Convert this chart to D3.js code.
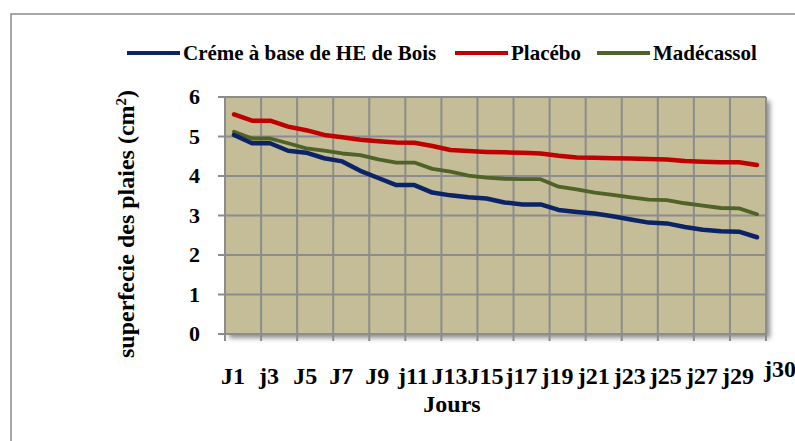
<!DOCTYPE html>
<html>
<head>
<meta charset="utf-8">
<script src="https://cdn.jsdelivr.net/npm/d3@7"></script>
<style>
  body { margin: 0; background: #fff; }
  text { font-family: "Liberation Serif", "Times New Roman", serif; font-weight: bold; fill: #000; }
</style>
</head>
<body>
<script>
var days = ["J1","j2","j3","j4","J5","j6","J7","j8","J9","j10","j11","j12","J13","j14","J15","j16",
            "j17","j18","j19","j20","j21","j22","j23","j24","j25","j26","j27","j28","j29","j30"];
var shownDays = ["J1","j3","J5","J7","J9","j11","J13","J15","j17","j19","j21","j23","j25","j27","j29"];
var yTicks = [0,1,2,3,4,5,6];

var seriesNames = ["Créme à base de HE de Bois", "Placébo", "Madécassol"];
var creme = [5.04,4.83,4.83,4.64,4.59,4.45,4.37,4.13,3.95,3.77,3.77,3.58,3.51,3.46,3.43,
             3.33,3.28,3.28,3.14,3.09,3.05,2.98,2.90,2.82,2.80,2.71,2.64,2.60,2.59,2.45];
var placebo = [5.56,5.40,5.40,5.25,5.16,5.04,4.98,4.92,4.88,4.85,4.84,4.76,4.66,4.63,4.61,
               4.60,4.59,4.57,4.51,4.47,4.46,4.45,4.44,4.43,4.42,4.38,4.36,4.35,4.35,4.28];
var madecassol = [5.12,4.95,4.95,4.83,4.70,4.64,4.57,4.53,4.42,4.34,4.34,4.18,4.11,4.01,3.96,
                  3.93,3.92,3.92,3.73,3.66,3.58,3.52,3.46,3.40,3.39,3.31,3.25,3.19,3.18,3.03];
var colors = ["#0b2468", "#c00000", "#4f6228"];

var width = 795, height = 441;
var plotLeft = 225, plotRight = 766, plotTop = 97, plotBottom = 334;

var svg = d3.select("body").append("svg")
  .attr("width", width)
  .attr("height", height);

var defs = svg.append("defs");
var shadow = defs.append("filter").attr("id", "shadow")
  .attr("x", "-5%").attr("y", "-5%").attr("width", "115%").attr("height", "115%");
shadow.append("feDropShadow")
  .attr("dx", 4).attr("dy", 4).attr("stdDeviation", 2.5)
  .attr("flood-color", "#000").attr("flood-opacity", 0.45);

// outer frame
svg.append("path")
  .attr("d", "M11," + height + "V14H" + width)
  .attr("fill", "none")
  .attr("stroke", "#8a8a8a")
  .attr("stroke-width", 1.5);

var x = d3.scaleBand().domain(days).range([plotLeft, plotRight]);
var y = d3.scaleLinear().domain([0, 6]).range([plotBottom, plotTop]);

// plot background
svg.append("rect")
  .attr("x", plotLeft).attr("y", plotTop)
  .attr("width", plotRight - plotLeft).attr("height", plotBottom - plotTop)
  .attr("fill", "#c4bd97")
  .attr("filter", "url(#shadow)");

// grid
var bounds = days.filter(function(d, i) { return i % 2 == 0; }).map(function(d) { return x(d); });
bounds.push(plotRight);

svg.append("g").selectAll("line")
  .data(yTicks)
  .enter().append("line")
  .attr("x1", plotLeft - 7).attr("x2", plotRight)
  .attr("y1", function(d) { return y(d); })
  .attr("y2", function(d) { return y(d); })
  .attr("stroke", "#8c8c8c").attr("stroke-width", 2);

svg.append("g").selectAll("line")
  .data(bounds)
  .enter().append("line")
  .attr("x1", function(d) { return d; }).attr("x2", function(d) { return d; })
  .attr("y1", plotTop).attr("y2", plotBottom + 7)
  .attr("stroke", "#8c8c8c").attr("stroke-width", 2);

// y tick labels
svg.append("g").selectAll("text")
  .data(yTicks)
  .enter().append("text")
  .attr("x", 200)
  .attr("y", function(d) { return y(d) + 7; })
  .attr("text-anchor", "end")
  .style("font-size", "22px")
  .text(function(d) { return d; });

// x tick labels
svg.append("g").selectAll("text")
  .data(shownDays)
  .enter().append("text")
  .attr("x", function(d) { return x(d) + x.bandwidth() / 2 - 1; })
  .attr("y", 384)
  .attr("text-anchor", "middle")
  .style("font-size", "24px")
  .text(function(d) { return d; });

svg.append("text")
  .attr("x", x("j30") + x.bandwidth() / 2 + 23)
  .attr("y", 377)
  .attr("text-anchor", "middle")
  .style("font-size", "24px")
  .text("j30");

// axis titles
svg.append("text")
  .attr("x", 452).attr("y", 412)
  .attr("text-anchor", "middle")
  .style("font-size", "24px")
  .text("Jours");

svg.append("text")
  .attr("transform", "translate(134,224) rotate(-90)")
  .attr("text-anchor", "middle")
  .style("font-size", "24px")
  .html("superfecie des plaies (cm<tspan dy='-8' font-size='15px'>2</tspan><tspan dy='8'>)</tspan>");

// lines
var line = d3.line()
  .x(function(d, i) { return x(days[i]) + x.bandwidth() / 2; })
  .y(function(d) { return y(d); });

[madecassol, placebo, creme].forEach(function(s, k) {
  var idx = [2, 1, 0][k];
  svg.append("path")
    .datum(s)
    .attr("d", line)
    .attr("fill", "none")
    .attr("stroke", colors[idx])
    .attr("stroke-width", idx == 2 ? 3.8 : 4.5)
    .attr("stroke-linejoin", "round")
    .attr("stroke-linecap", "round");
});

// legend
var legendX = [127, 455, 597];
var leg = svg.append("g").selectAll("g")
  .data(seriesNames)
  .enter().append("g")
  .attr("transform", function(d, i) { return "translate(" + legendX[i] + ",53)"; });

leg.append("line")
  .attr("x1", 0).attr("x2", 53)
  .attr("stroke", function(d, i) { return colors[i]; })
  .attr("stroke-width", 4);

leg.append("text")
  .attr("x", 56).attr("y", 7)
  .style("font-size", "21px")
  .text(function(d) { return d; });
</script>
</body>
</html>
